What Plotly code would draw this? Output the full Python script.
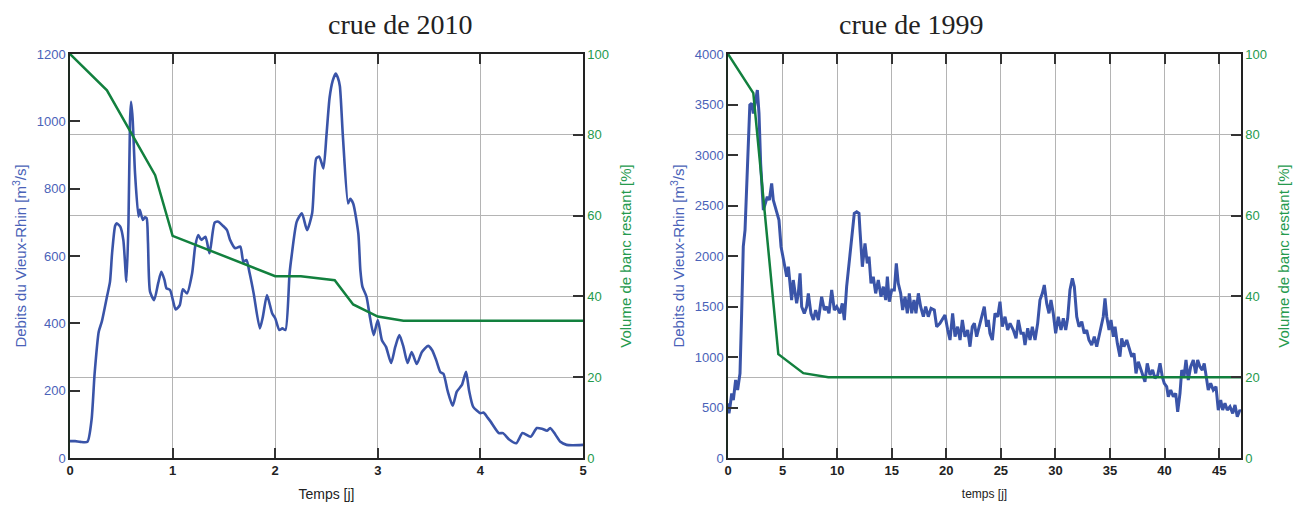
import plotly.graph_objects as go

# ---- crue de 2010 ----
t2010 = [0, 0.05, 0.1, 0.17, 0.21, 0.24, 0.28, 0.31, 0.36, 0.39, 0.41, 0.44, 0.455, 0.49, 0.52,
         0.55, 0.57, 0.585, 0.595, 0.61, 0.634, 0.667, 0.68, 0.71, 0.73, 0.747, 0.76, 0.78, 0.82,
         0.86, 0.89, 0.92, 0.94, 0.975, 1.03, 1.07, 1.10, 1.14, 1.19, 1.22, 1.25, 1.28, 1.32, 1.36,
         1.41, 1.445, 1.49, 1.53, 1.56, 1.61, 1.66, 1.69, 1.72, 1.75, 1.79, 1.85, 1.88, 1.92, 1.97,
         2.0, 2.04, 2.07, 2.10, 2.14, 2.16, 2.21, 2.26, 2.31, 2.36, 2.40, 2.43, 2.47, 2.50, 2.53,
         2.56, 2.59, 2.61, 2.63, 2.66, 2.71, 2.73, 2.76, 2.81, 2.83, 2.85, 2.89, 2.92, 2.96, 3.0,
         3.04, 3.08, 3.13, 3.17, 3.21, 3.25, 3.29, 3.33, 3.38, 3.43, 3.49, 3.53, 3.57, 3.61, 3.64,
         3.68, 3.73, 3.77, 3.82, 3.86, 3.89, 3.93, 4.0, 4.03, 4.07, 4.1, 4.18, 4.22, 4.28, 4.35,
         4.41, 4.49, 4.55, 4.6, 4.65, 4.68, 4.73, 4.78, 4.84, 4.9, 5.0]
q2010 = [50, 50, 48, 48, 113, 251, 375, 405, 479, 524, 608, 690, 697, 687, 647,
         524, 700, 1000, 1058, 1010, 845, 717, 737, 707, 715, 712, 640, 494, 469,
         520, 553, 530, 504, 499, 441, 454, 501, 489, 548, 628, 662, 648, 657, 608,
         699, 702, 690, 677, 648, 623, 628, 583, 588, 550, 489, 385, 420, 484, 430,
         415, 380, 385, 380, 548, 600, 702, 727, 677, 727, 890, 895, 860, 960, 1070,
         1120, 1142, 1130, 1105, 954, 756, 770, 756, 667, 558, 509, 479, 425, 365, 410,
         350, 330, 282, 330, 365, 330, 282, 315, 279, 315, 333, 320, 290, 255, 250,
         200, 155, 197, 217, 256, 200, 152, 133, 135, 120, 108, 74, 74, 55, 44,
         74, 63, 89, 87, 81, 89, 70, 48, 39, 38, 39]
tv2010 = [0, 0.36, 0.83, 1.0, 2.0, 2.25, 2.58, 2.76, 3.0, 3.25, 5.0]
v2010 = [100, 91, 70, 55, 45, 45, 44, 38, 35, 34, 34]

# ---- crue de 1999 ----
t1999 = [0.0, 0.09, 0.2, 0.34, 0.49, 0.7, 0.88, 1.1, 1.25, 1.4, 1.56, 1.71, 1.86, 2.0, 2.17, 2.32,
         2.54, 2.69, 2.84, 2.99, 3.24, 3.39, 3.6, 3.79, 4.0, 4.15, 4.31, 4.46, 4.67, 4.86, 5.07,
         5.22, 5.38, 5.53, 5.68, 5.83, 5.98, 6.14, 6.29, 6.44, 6.6, 6.75, 6.99, 7.21, 7.36, 7.6,
         7.82, 8.03, 8.28, 8.58, 8.83, 9.04, 9.25, 9.5, 9.74, 9.96, 10.26, 10.47, 10.66, 10.87,
         11.09, 11.33, 11.57, 11.79, 12.0, 12.09, 12.31, 12.55, 12.76, 12.92, 13.1, 13.31, 13.53,
         13.77, 14.02, 14.23, 14.45, 14.6, 14.78, 15.0, 15.24, 15.42, 15.6, 15.82, 16.0, 16.22,
         16.43, 16.61, 16.83, 17.04, 17.22, 17.44, 17.65, 17.9, 18.11, 18.35, 18.6, 18.9, 19.12,
         19.42, 19.63, 19.88, 20.13, 20.34, 20.58, 20.8, 21.04, 21.26, 21.47, 21.71, 21.96, 22.17,
         22.38, 22.57, 22.78, 23.0, 23.24, 23.48, 23.7, 23.85, 24.0, 24.22, 24.46, 24.71, 24.92,
         25.13, 25.38, 25.62, 25.84, 26.14, 26.39, 26.6, 26.84, 27.06, 27.21, 27.46, 27.67, 27.88,
         28.13, 28.37, 28.58, 28.8, 28.98, 29.2, 29.41, 29.59, 29.8, 30.02, 30.26, 30.51, 30.72,
         30.94, 31.12, 31.33, 31.55, 31.73, 31.95, 32.16, 32.41, 32.64, 32.86, 33.07, 33.32, 33.56,
         33.78, 33.99, 34.17, 34.38, 34.54, 34.7, 34.91, 35.09, 35.3, 35.46, 35.67, 35.91, 36.07,
         36.28, 36.53, 36.77, 36.99, 37.2, 37.38, 37.59, 37.81, 38.05, 38.2, 38.41, 38.66, 38.9,
         39.12, 39.37, 39.58, 39.79, 39.97, 40.19, 40.34, 40.56, 40.8, 41.02, 41.2, 41.41, 41.57,
         41.78, 41.96, 42.17, 42.39, 42.63, 42.85, 43.03, 43.24, 43.45, 43.63, 43.85, 44.0, 44.22,
         44.46, 44.71, 44.92, 45.14, 45.32, 45.53, 45.74, 45.99, 46.24, 46.45, 46.66, 46.9, 47.0]
q1999 = [541, 442, 520, 640, 574, 772, 673, 838, 1432, 2092, 2257, 2686, 3082, 3495, 3512, 3412,
         3544, 3643, 3412, 2917, 2455, 2521, 2587, 2554, 2719, 2554, 2488, 2422, 2356, 2092, 1960,
         1894, 1795, 1894, 1696, 1564, 1762, 1630, 1531, 1630, 1828, 1498, 1432, 1498, 1630, 1432,
         1366, 1465, 1366, 1597, 1465, 1498, 1432, 1663, 1465, 1498, 1432, 1531, 1366, 1696,
         1927, 2125, 2422, 2438, 2422, 2257, 1894, 2125, 1927, 1993, 1729, 1795, 1630,
         1762, 1597, 1696, 1564, 1795, 1547, 1663, 1663, 1927, 1729, 1630, 1465, 1597,
         1432, 1630, 1432, 1564, 1432, 1630, 1498, 1399, 1498, 1399, 1482, 1465, 1300,
         1333, 1366, 1416, 1267, 1168, 1432, 1201, 1300, 1168, 1366, 1201, 1267, 1102,
         1300, 1333, 1201, 1300, 1399, 1498, 1300, 1366, 1234, 1168, 1432, 1399, 1547,
         1300, 1399, 1267, 1333, 1267, 1185, 1366, 1234, 1234, 1119, 1284, 1168, 1300,
         1168, 1333, 1564, 1630, 1713, 1531, 1432, 1564, 1432, 1234, 1399, 1267, 1383,
         1267, 1383, 1663, 1779, 1696, 1399, 1300, 1350, 1234, 1267, 1168, 1119, 1201,
         1102, 1201, 1267, 1399, 1581, 1399, 1267, 1366, 1201, 1300, 1135, 1003, 1185,
         1102, 1168, 1069, 1003, 1036, 838, 953, 871, 805, 755, 937, 822, 871,
         789, 822, 937, 805, 739, 706, 607, 673, 607, 640, 458, 640, 871,
         805, 970, 772, 904, 970, 838, 970, 904, 871, 937, 772, 673, 739,
         673, 706, 475, 574, 475, 541, 475, 508, 442, 525, 409, 475, 460]
tv1999 = [0, 2.32, 4.61, 6.9, 9.19, 47]
v1999 = [100, 90.3, 25.7, 21, 20, 20]

titles = ["crue de 2010", "crue de 1999"]
xtitles = ["Temps [j]", "temps [j]"]

BLUE = "#3a54a8"
BLUE_TXT = "#4a62b8"
GREEN = "#12803e"
GREEN_TXT = "#259a4e"
GRID = "#b4b4b4"
FONT = "Liberation Sans"

fig = go.Figure()
fig.add_trace(go.Scatter(x=t2010, y=q2010, mode="lines", xaxis="x", yaxis="y",
                         line=dict(color=BLUE, width=2.6, shape="spline", smoothing=0.6),
                         showlegend=False))
fig.add_trace(go.Scatter(x=tv2010, y=v2010, mode="lines", xaxis="x", yaxis="y2",
                         line=dict(color=GREEN, width=2.5), showlegend=False))
fig.add_trace(go.Scatter(x=t1999, y=q1999, mode="lines", xaxis="x2", yaxis="y3",
                         line=dict(color=BLUE, width=3), showlegend=False))
fig.add_trace(go.Scatter(x=tv1999, y=v1999, mode="lines", xaxis="x2", yaxis="y4",
                         line=dict(color=GREEN, width=2.5), showlegend=False))

# page has an 8px body margin: figure spans 8..1302 x 8..505
W, H = 1294, 497
ML, MR, MT, MB = 62, 61, 46, 47
PW = W - ML - MR
d1 = [0, (583 - 70) / PW]
d2 = [(728 - 70) / PW, 1]

def xax(domain, rng, dtick, title, tsize):
    return dict(domain=domain, range=rng, dtick=dtick, tick0=0, showgrid=True, gridcolor=GRID,
                gridwidth=1, zeroline=False, showline=True, linecolor="#222", linewidth=1.5,
                mirror="ticks", ticks="inside", ticklen=10, tickwidth=1.5, tickcolor="#333",
                tickfont=dict(family=FONT, size=13, color="#222", weight="bold"),
                title=dict(text=title, font=dict(family=FONT, size=tsize, color="#222"), standoff=12),
                automargin=False)

def yax_left(anchor, rng, dtick, title):
    return dict(anchor=anchor, range=rng, dtick=dtick, tick0=0, showgrid=False, zeroline=False,
                showline=True, linecolor="#1e2a22", linewidth=1.5, ticks="inside", ticklen=10,
                tickwidth=1.5, tickcolor="#333",
                tickfont=dict(family=FONT, size=13, color=BLUE_TXT),
                title=dict(text=title, font=dict(family=FONT, size=15, color=BLUE_TXT), standoff=6),
                automargin=False)

def yax_right(anchor, overlay):
    return dict(anchor=anchor, overlaying=overlay, side="right", range=[0, 100], dtick=20, tick0=0,
                showgrid=True, gridcolor=GRID, gridwidth=1, zeroline=False, showline=True,
                linecolor="#222", linewidth=1.5, ticks="inside", ticklen=10, tickwidth=1.5,
                tickcolor="#333", tickfont=dict(family=FONT, size=13, color=GREEN_TXT),
                title=dict(text="Volume de banc restant [%]",
                           font=dict(family=FONT, size=15, color=GREEN_TXT), standoff=12),
                automargin=False)

ytitle = "Debits du Vieux-Rhin [m<sup>3</sup>/s]"
fig.update_layout(
    width=W, height=H,
    margin=dict(l=ML, r=MR, t=MT, b=MB),
    paper_bgcolor="white", plot_bgcolor="white",
    xaxis=xax(d1, [0, 5], 1, xtitles[0], 14),
    xaxis2=xax(d2, [0, 47], 5, xtitles[1], 12),
    yaxis=yax_left("x", [0, 1200], 200, ytitle),
    yaxis2=yax_right("x", "y"),
    yaxis3=yax_left("x2", [0, 4000], 500, ytitle),
    yaxis4=yax_right("x2", "y3"),
    annotations=[
        dict(text=titles[0], xref="paper", yref="paper", x=(d1[0] + d1[1]) / 2, y=1.0,
             yanchor="middle", yshift=30, showarrow=False, borderpad=0,
             font=dict(family="Liberation Serif", size=28, color="#222")),
        dict(text=titles[1], xref="paper", yref="paper", x=(d2[0] + d2[1]) / 2, y=1.0,
             yanchor="middle", yshift=30, showarrow=False, borderpad=0,
             font=dict(family="Liberation Serif", size=28, color="#222")),
    ],
)

fig.write_html("out.html")
